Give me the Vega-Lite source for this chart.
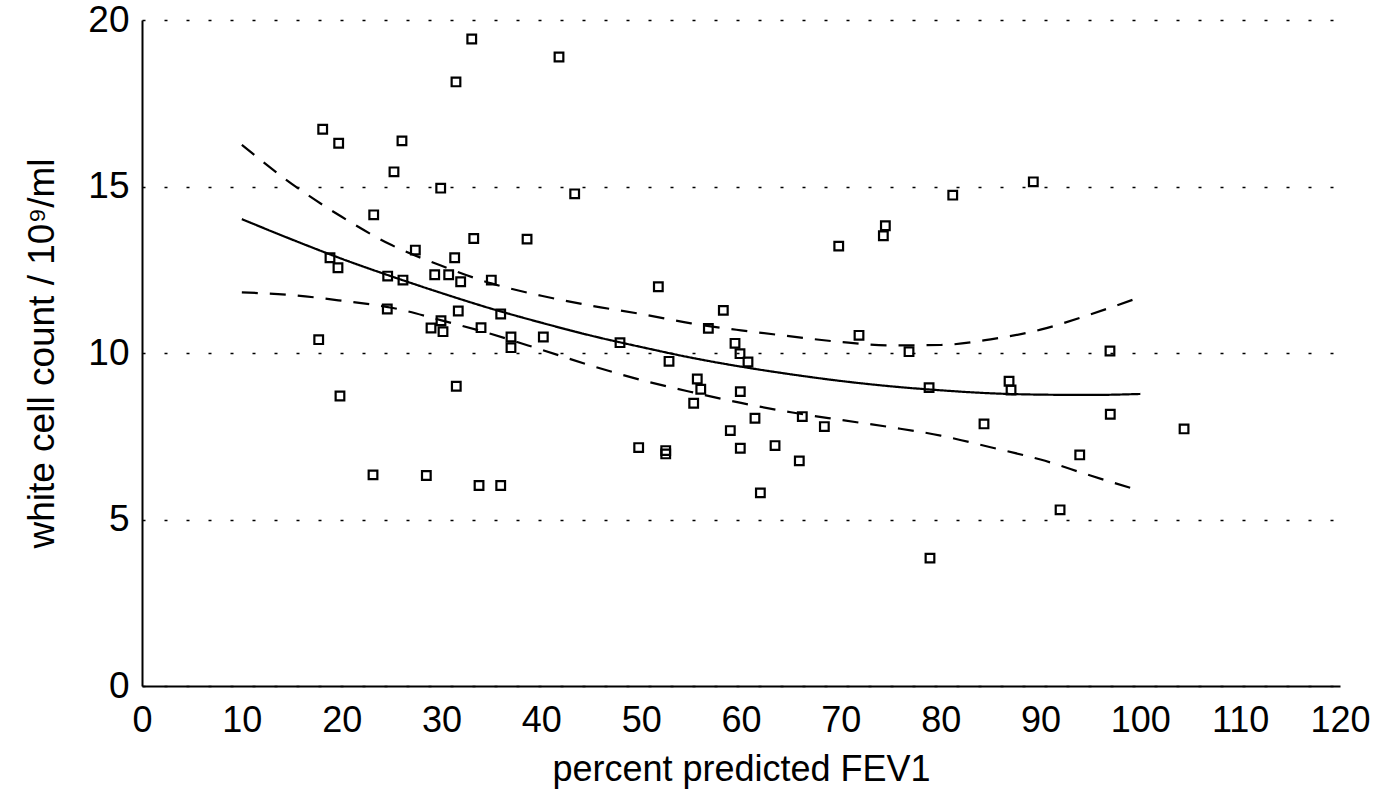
{
  "$schema": "https://vega.github.io/schema/vega-lite/v6.json",
  "width": 1198,
  "height": 666,
  "autosize": {"type": "none"},
  "padding": {"left": 142, "top": 20, "right": 44, "bottom": 124},
  "background": "white",
  "config": {
    "view": {"stroke": null},
    "font": "Liberation Sans",
    "axis": {
      "labelFont": "Liberation Sans",
      "titleFont": "Liberation Sans",
      "labelColor": "black",
      "titleColor": "black",
      "domainColor": "black",
      "domainWidth": 2,
      "ticks": false,
      "titleFontWeight": "normal"
    }
  },
  "datasets": {
    "points": [
      {"fev1": 33.03, "wcc": 19.43}, {"fev1": 41.77, "wcc": 18.89}, {"fev1": 31.45, "wcc": 18.14},
      {"fev1": 18.10, "wcc": 16.72}, {"fev1": 19.70, "wcc": 16.30}, {"fev1": 26.04, "wcc": 16.37},
      {"fev1": 25.24, "wcc": 15.44}, {"fev1": 29.92, "wcc": 14.95}, {"fev1": 43.34, "wcc": 14.78},
      {"fev1": 23.21, "wcc": 14.15}, {"fev1": 33.23, "wcc": 13.44}, {"fev1": 38.57, "wcc": 13.42},
      {"fev1": 27.38, "wcc": 13.09}, {"fev1": 31.32, "wcc": 12.86}, {"fev1": 18.83, "wcc": 12.86},
      {"fev1": 19.63, "wcc": 12.56}, {"fev1": 24.61, "wcc": 12.31}, {"fev1": 26.14, "wcc": 12.19},
      {"fev1": 29.32, "wcc": 12.35}, {"fev1": 30.72, "wcc": 12.35}, {"fev1": 31.92, "wcc": 12.14},
      {"fev1": 34.99, "wcc": 12.19}, {"fev1": 31.68, "wcc": 11.26}, {"fev1": 35.93, "wcc": 11.17},
      {"fev1": 24.57, "wcc": 11.32}, {"fev1": 29.95, "wcc": 10.97}, {"fev1": 28.95, "wcc": 10.75},
      {"fev1": 30.15, "wcc": 10.64}, {"fev1": 33.96, "wcc": 10.76}, {"fev1": 36.96, "wcc": 10.48},
      {"fev1": 36.96, "wcc": 10.16}, {"fev1": 40.20, "wcc": 10.48}, {"fev1": 17.70, "wcc": 10.40},
      {"fev1": 19.83, "wcc": 8.71}, {"fev1": 31.48, "wcc": 9.00}, {"fev1": 23.14, "wcc": 6.34},
      {"fev1": 28.48, "wcc": 6.32}, {"fev1": 33.76, "wcc": 6.02}, {"fev1": 35.93, "wcc": 6.02},
      {"fev1": 89.28, "wcc": 15.14}, {"fev1": 81.21, "wcc": 14.74}, {"fev1": 74.46, "wcc": 13.82},
      {"fev1": 74.26, "wcc": 13.52}, {"fev1": 69.79, "wcc": 13.21}, {"fev1": 51.72, "wcc": 11.99},
      {"fev1": 58.23, "wcc": 11.28}, {"fev1": 56.73, "wcc": 10.74}, {"fev1": 71.82, "wcc": 10.53},
      {"fev1": 47.88, "wcc": 10.31}, {"fev1": 59.40, "wcc": 10.29}, {"fev1": 59.90, "wcc": 9.98},
      {"fev1": 60.70, "wcc": 9.73}, {"fev1": 76.83, "wcc": 10.04}, {"fev1": 52.79, "wcc": 9.75},
      {"fev1": 55.62, "wcc": 9.22}, {"fev1": 55.97, "wcc": 8.91}, {"fev1": 78.84, "wcc": 8.96},
      {"fev1": 86.85, "wcc": 9.15}, {"fev1": 87.05, "wcc": 8.89}, {"fev1": 59.93, "wcc": 8.84},
      {"fev1": 55.26, "wcc": 8.49}, {"fev1": 61.40, "wcc": 8.04}, {"fev1": 66.14, "wcc": 8.09},
      {"fev1": 68.35, "wcc": 7.79}, {"fev1": 84.34, "wcc": 7.87}, {"fev1": 58.93, "wcc": 7.67},
      {"fev1": 49.75, "wcc": 7.16}, {"fev1": 52.46, "wcc": 7.07}, {"fev1": 52.46, "wcc": 6.97},
      {"fev1": 59.93, "wcc": 7.14}, {"fev1": 63.41, "wcc": 7.22}, {"fev1": 65.84, "wcc": 6.76},
      {"fev1": 61.94, "wcc": 5.80}, {"fev1": 96.96, "wcc": 10.06}, {"fev1": 96.99, "wcc": 8.16},
      {"fev1": 104.38, "wcc": 7.72}, {"fev1": 93.93, "wcc": 6.94}, {"fev1": 91.96, "wcc": 5.29},
      {"fev1": 78.93, "wcc": 3.84}
    ],
    "curves": [
      {"series": "fit", "fev1": 10, "wcc": 14.02}, {"series": "fit", "fev1": 15, "wcc": 13.41},
      {"series": "fit", "fev1": 20, "wcc": 12.83}, {"series": "fit", "fev1": 25, "wcc": 12.30},
      {"series": "fit", "fev1": 30, "wcc": 11.80}, {"series": "fit", "fev1": 35, "wcc": 11.33},
      {"series": "fit", "fev1": 40, "wcc": 10.91}, {"series": "fit", "fev1": 45, "wcc": 10.52},
      {"series": "fit", "fev1": 50, "wcc": 10.18}, {"series": "fit", "fev1": 55, "wcc": 9.86},
      {"series": "fit", "fev1": 60, "wcc": 9.59}, {"series": "fit", "fev1": 65, "wcc": 9.36},
      {"series": "fit", "fev1": 70, "wcc": 9.16}, {"series": "fit", "fev1": 75, "wcc": 9.00},
      {"series": "fit", "fev1": 80, "wcc": 8.88}, {"series": "fit", "fev1": 85, "wcc": 8.79},
      {"series": "fit", "fev1": 90, "wcc": 8.75}, {"series": "fit", "fev1": 95, "wcc": 8.74},
      {"series": "fit", "fev1": 100, "wcc": 8.77},
      {"series": "upper", "fev1": 10, "wcc": 16.25}, {"series": "upper", "fev1": 15, "wcc": 15.08},
      {"series": "upper", "fev1": 20, "wcc": 14.09}, {"series": "upper", "fev1": 25, "wcc": 13.24},
      {"series": "upper", "fev1": 30, "wcc": 12.62}, {"series": "upper", "fev1": 35, "wcc": 12.09},
      {"series": "upper", "fev1": 40, "wcc": 11.72}, {"series": "upper", "fev1": 45, "wcc": 11.42},
      {"series": "upper", "fev1": 50, "wcc": 11.17}, {"series": "upper", "fev1": 55, "wcc": 10.89},
      {"series": "upper", "fev1": 60, "wcc": 10.68}, {"series": "upper", "fev1": 65, "wcc": 10.50},
      {"series": "upper", "fev1": 70, "wcc": 10.33}, {"series": "upper", "fev1": 75, "wcc": 10.23},
      {"series": "upper", "fev1": 80, "wcc": 10.24}, {"series": "upper", "fev1": 85, "wcc": 10.41},
      {"series": "upper", "fev1": 90, "wcc": 10.70}, {"series": "upper", "fev1": 95, "wcc": 11.16},
      {"series": "upper", "fev1": 100, "wcc": 11.68},
      {"series": "lower", "fev1": 10, "wcc": 11.82}, {"series": "lower", "fev1": 15, "wcc": 11.74},
      {"series": "lower", "fev1": 20, "wcc": 11.57}, {"series": "lower", "fev1": 25, "wcc": 11.36},
      {"series": "lower", "fev1": 30, "wcc": 10.98}, {"series": "lower", "fev1": 35, "wcc": 10.57},
      {"series": "lower", "fev1": 40, "wcc": 10.10}, {"series": "lower", "fev1": 45, "wcc": 9.62},
      {"series": "lower", "fev1": 50, "wcc": 9.19}, {"series": "lower", "fev1": 55, "wcc": 8.83},
      {"series": "lower", "fev1": 60, "wcc": 8.50}, {"series": "lower", "fev1": 65, "wcc": 8.22},
      {"series": "lower", "fev1": 70, "wcc": 7.99}, {"series": "lower", "fev1": 75, "wcc": 7.77},
      {"series": "lower", "fev1": 80, "wcc": 7.52}, {"series": "lower", "fev1": 85, "wcc": 7.17},
      {"series": "lower", "fev1": 90, "wcc": 6.80}, {"series": "lower", "fev1": 95, "wcc": 6.32},
      {"series": "lower", "fev1": 100, "wcc": 5.86}
    ]
  },
  "layer": [
    {
      "data": {"name": "curves"},
      "mark": {"type": "line", "color": "black", "strokeWidth": 2.2, "interpolate": "monotone"},
      "encoding": {
        "x": {
          "field": "fev1", "type": "quantitative",
          "scale": {"domain": [0, 120], "nice": false},
          "axis": {
            "title": "percent predicted FEV1",
            "values": [0, 10, 20, 30, 40, 50, 60, 70, 80, 90, 100, 110, 120],
            "grid": false,
            "labelFontSize": 36,
            "labelPadding": 17,
            "labelFlush": false,
            "titleFontSize": 36,
            "titlePadding": 14
          }
        },
        "y": {
          "field": "wcc", "type": "quantitative",
          "scale": {"domain": [0, 20], "nice": false},
          "axis": {
            "title": "white cell count / 10⁹/ml",
            "values": [0, 5, 10, 15, 20],
            "grid": true,
            "gridColor": "black",
            "gridWidth": 1.5,
            "gridDash": [3, 19],
            "labelFontSize": 37,
            "labelPadding": 13,
            "labelFlush": false,
            "titleFontSize": 37,
            "titlePadding": 26
          }
        },
        "detail": {"field": "series"},
        "strokeDash": {
          "field": "series", "type": "nominal",
          "scale": {"domain": ["fit", "upper", "lower"], "range": [[1, 0], [16, 12], [16, 12]]},
          "legend": null
        }
      }
    },
    {
      "data": {"name": "points"},
      "mark": {"type": "point", "shape": "square", "filled": false, "color": "black", "strokeWidth": 2.2, "size": 75, "opacity": 1},
      "encoding": {
        "x": {"field": "fev1", "type": "quantitative"},
        "y": {"field": "wcc", "type": "quantitative"}
      }
    }
  ]
}
